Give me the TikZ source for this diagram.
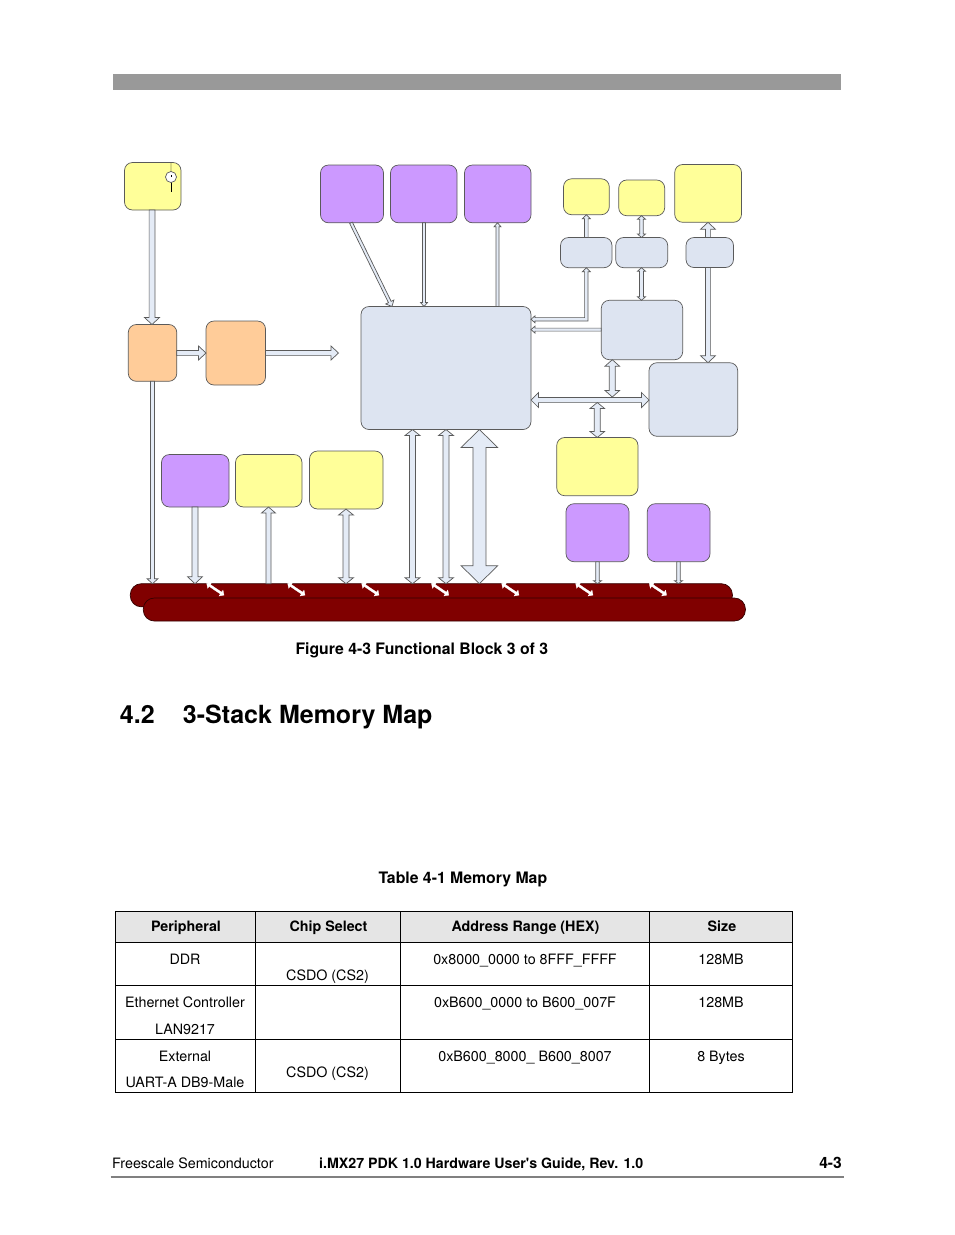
\documentclass[tikz,border=0pt]{standalone}
\usepackage{fontspec}
\setmainfont{TeX Gyre Heros}[Ligatures=TeXOff]
\usetikzlibrary{calc}
\definecolor{yel}{HTML}{FFFF99}
\definecolor{pur}{HTML}{CC99FF}
\definecolor{ora}{HTML}{FFCC99}
\definecolor{blu}{HTML}{DDE4F1}
\definecolor{arr}{HTML}{E4EBF6}
\definecolor{busred}{HTML}{800000}
\definecolor{edge}{HTML}{5A5A5A}
\tikzset{
  blockbox/.style={draw=edge,line width=0.7pt,rounded corners=8pt,inner sep=0pt,outer sep=0pt,anchor=north west},
  ybox/.style={blockbox,fill=yel},
  pbox/.style={blockbox,fill=pur},
  obox/.style={blockbox,fill=ora},
  bbox/.style={blockbox,fill=blu},
  busbox/.style={blockbox,fill=busred,draw=black!60!busred,rounded corners=11pt},
  flow/.style={draw=edge,line width=0.7pt,fill=arr,line join=miter},
  minor/.style={draw=white,fill=white,line width=0.3pt},
  rule/.style={draw=black,line width=0.8pt},
  cell/.style={anchor=base,inner sep=0pt,font=\fontsize{14.3}{16}\selectfont},
  headcell/.style={anchor=base,inner sep=0pt,font=\fontsize{14.3}{16}\selectfont\bfseries},
}
% name, style, x1, y1, x2, y2
\newcommand\blk[6]{\node[#2,minimum width={(#5-#3)*1pt},minimum height={(#6-#4)*1pt}] (#1) at (#3,#4) {};}
% style, from, to, shaft half, head half, head length
\newcommand\twohead[6]{%
  \coordinate (A) at (#2); \coordinate (B) at (#3);
  \coordinate (A1) at ($(A)!#6pt!(B)$); \coordinate (B1) at ($(B)!#6pt!(A)$);
  \path[#1] (A) -- ($(A1)!#5pt!90:(B)$) -- ($(A1)!#4pt!90:(B)$) -- ($(B1)!#4pt!-90:(A)$) -- ($(B1)!#5pt!-90:(A)$)
    -- (B) -- ($(B1)!#5pt!90:(A)$) -- ($(B1)!#4pt!90:(A)$) -- ($(A1)!#4pt!-90:(B)$) -- ($(A1)!#5pt!-90:(B)$) -- cycle;}
\newcommand\onehead[6]{%
  \coordinate (A) at (#2); \coordinate (B) at (#3);
  \coordinate (B1) at ($(B)!#6pt!(A)$);
  \path[#1] ($(A)!#4pt!90:(B)$) -- ($(B1)!#4pt!-90:(A)$) -- ($(B1)!#5pt!-90:(A)$)
    -- (B) -- ($(B1)!#5pt!90:(A)$) -- ($(B1)!#4pt!90:(A)$) -- ($(A)!#4pt!-90:(B)$) -- cycle;}
\begin{document}
\begin{tikzpicture}[x=1pt,y=-1pt]
\useasboundingbox (0,0) rectangle (954,1235);
\fill[black!40] (113,74) rectangle (841,90);

% blocks
\blk{clk}{ybox}{124.5}{162.5}{181}{210}
\blk{ora1}{obox}{128.3}{324.5}{176.8}{381.3}
\blk{ora2}{obox}{206}{321}{265.5}{385}
\blk{pa}{pbox}{320.5}{165}{383.5}{222.8}
\blk{pb}{pbox}{390.5}{165}{457}{222.8}
\blk{pc}{pbox}{464.5}{165}{531}{222.8}
\blk{soc}{bbox}{361}{306.5}{531}{429.5}
\blk{ya}{ybox}{563.5}{178.8}{609.3}{214.7}
\blk{yb}{ybox}{618.7}{180}{664.7}{215.7}
\blk{yc}{ybox}{674.7}{164.5}{741.5}{222.3}
\blk{ba}{bbox}{560.5}{237.5}{612}{267.7}
\blk{bb}{bbox}{615.7}{237.5}{667.7}{267.7}
\blk{bc}{bbox}{686}{237.5}{733.5}{267.5}
\blk{bd}{bbox}{601.3}{300.3}{682.7}{359.7}
\blk{be}{bbox}{649}{362.7}{737.7}{436.3}
\blk{yd}{ybox}{556.7}{437.5}{638}{495.7}
\blk{pd}{pbox}{566}{503.7}{629}{561.7}
\blk{pe}{pbox}{647.3}{503.7}{710}{561.7}
\blk{pf}{pbox}{161.5}{454.5}{229}{507}
\blk{ye}{ybox}{235.5}{454.5}{302}{507}
\blk{yf}{ybox}{309.5}{451}{383}{509}
\blk{busa}{busbox}{130.3}{583.7}{732.4}{606.8}
\blk{busb}{busbox}{143.3}{598}{745.4}{621}

% clock symbol
\draw[yel!85!black,line width=1.5pt] (171,163) -- (171,172);
\draw[line width=1pt] (171,182) -- (171,192);
\node[circle,draw=edge,fill=white,line width=0.7pt,minimum size=11pt,inner sep=0pt] (dial) at (171,177) {};
\draw[line width=1pt] (dial.center) -- (171,174.5);

% connectors
\onehead{flow}{152,0 |- clk.south}{152,0 |- ora1.north}{2.9}{7.5}{7}
\onehead{flow}{ora1.east |- 0,353}{ora2.west |- 0,353}{2.6}{7}{7.5}
\coordinate (freeout) at (338.5,353);
\onehead{flow}{ora2.east |- freeout}{freeout}{2.6}{7}{7.5}
\onehead{flow}{152.5,0 |- ora1.south}{152.5,0 |- busa.north}{2}{5.5}{5}
\onehead{flow}{351,222.8}{392,306.5}{1.5}{4.5}{5}
\onehead{flow}{424,0 |- pb.south}{424,0 |- soc.north}{1.5}{3.5}{4}
\onehead{flow}{497.5,0 |- soc.north}{497.5,0 |- pc.south}{1.5}{3.5}{4}
\onehead{flow}{195,0 |- pf.south}{195,0 |- busa.north}{3}{7.5}{7}
\onehead{flow}{268.5,0 |- busa.north}{268.5,0 |- ye.south}{2.5}{7}{6}
\twohead{flow}{346,0 |- yf.south}{346,0 |- busa.north}{3}{7.5}{6}
\twohead{flow}{412.5,0 |- soc.south}{412.5,0 |- busa.north}{3}{7.5}{6}
\twohead{flow}{446,0 |- soc.south}{446,0 |- busa.north}{3}{7.5}{6}
\twohead{flow}{479.4,0 |- soc.south}{479.4,0 |- busa.north}{6.5}{18.3}{18}
\onehead{flow}{597.5,0 |- pd.south}{597.5,0 |- busa.north}{1.8}{4}{3}
\onehead{flow}{678.5,0 |- pe.south}{678.5,0 |- busa.north}{1.8}{4}{3}
\twohead{flow}{soc.east |- 0,400}{be.west |- 0,400}{2.6}{7.5}{7.5}
\coordinate (busT) at (612.3,397);
\coordinate (busU) at (597.3,402.5);
\twohead{flow}{612.3,0 |- bd.south}{busT}{3}{7.3}{6.5}
\twohead{flow}{busU}{597.3,0 |- yd.north}{3}{7.3}{6}
\onehead{flow}{708,0 |- bc.north}{708,0 |- yc.south}{2.6}{7.5}{7}
\onehead{flow}{708,0 |- bc.south}{708,0 |- be.north}{2.6}{7.5}{7}
\onehead{flow}{586.3,0 |- ba.north}{586.3,0 |- ya.south}{1.8}{4}{4}
\twohead{flow}{641.5,0 |- bb.north}{641.5,0 |- yb.south}{1.8}{4}{3.5}
\twohead{flow}{641.5,0 |- bb.south}{641.5,0 |- bd.north}{2}{4}{3.5}
\onehead{flow}{bd.west |- 0,329.6}{soc.east |- 0,329.6}{1.5}{3.5}{4}
% elbow between ba and soc
\coordinate (elb) at (586.3,319.3);
\path[flow] (ba.south -| elb) -- (582.3,271.7) -- (584.6,271.7) -- (584.6,317.6) -- (535,317.6) -- (535,315.8)
  -- (soc.east |- elb) -- (535,322.8) -- (535,321) -- (588,321) -- (588,271.7) -- (590.3,271.7) -- cycle;

% small bus links
\foreach \n/\bx in {1/206.7,2/287.7,3/361.7,4/431.5,5/501.7,6/575.7,7/649.3}{
  \coordinate (sa\n) at (\bx,583.4);
  \coordinate (sb\n) at ($(sa\n)+(17.3,11.7)$);
  \twohead{minor}{sa\n}{sb\n}{1.1}{3.5}{3.6}
}

% captions
\node[anchor=base west,inner sep=0pt,font=\fontsize{15.8}{18}\selectfont\bfseries] (figcap) at (295.3,654) {Figure 4-3 Functional Block 3 of 3};
\node[anchor=base west,inner sep=0pt,font=\fontsize{25}{28}\selectfont\bfseries] (secno) at (119.7,723) {4.2};
\node[anchor=base west,inner sep=0pt,font=\fontsize{25}{28}\selectfont\bfseries] (sectitle) at (182.7,723) {3-Stack Memory Map};
\node[anchor=base west,inner sep=0pt,font=\fontsize{15.8}{18}\selectfont\bfseries] (tabcap) at (378.3,883.5) {Table 4-1 Memory Map};

% table
\fill[black!10] (115.3,911.7) rectangle (792.3,942.3);
\draw[rule] (115.3,911.7) rectangle (792.3,1092.3);
\foreach \ty in {942.3,985,1039.3}{\draw[rule] (115.3,\ty) -- (792.3,\ty);}
\foreach \tx in {255.4,400.7,649.4}{\draw[rule] (\tx,911.7) -- (\tx,1092.3);}
\node[headcell] (h1) at (186,931) {Peripheral};
\node[headcell] (h2) at (328.5,931) {Chip Select};
\node[headcell] (h3) at (525.5,931) {Address Range (HEX)};
\node[headcell] (h4) at (722,931) {Size};
\node[cell] (c11) at (185,964) {DDR};
\node[cell] (c12) at (327.5,980) {CSDO (CS2)};
\node[cell] (c13) at (525,964) {0x8000\_0000 to 8FFF\_FFFF};
\node[cell] (c14) at (721,964) {128MB};
\node[cell] (c21) at (185,1007) {Ethernet Controller};
\node[cell] (c21b) at (185,1034) {LAN9217};
\node[cell] (c23) at (525,1007) {0xB600\_0000 to B600\_007F};
\node[cell] (c24) at (721,1007) {128MB};
\node[cell] (c31) at (185,1061) {External};
\node[cell] (c31b) at (185,1087) {UART-A DB9-Male};
\node[cell] (c32) at (327.5,1077) {CSDO (CS2)};
\node[cell] (c33) at (525,1061) {0xB600\_8000\_ B600\_8007};
\node[cell] (c34) at (721,1061) {8 Bytes};

% footer
\node[anchor=base west,inner sep=0pt,font=\fontsize{14.3}{16}\selectfont] (foot1) at (112,1168) {Freescale Semiconductor};
\node[anchor=base west,inner sep=0pt,font=\fontsize{14.2}{16}\selectfont\bfseries] (foot2) at (319,1168) {i.MX27 PDK 1.0 Hardware User's Guide, Rev. 1.0};
\node[anchor=base east,inner sep=0pt,font=\fontsize{15.6}{18}\selectfont\bfseries] (foot3) at (842,1168.5) {4-3};
\draw[black!50,line width=2pt] (110.5,1177) -- (844,1177);
\end{tikzpicture}
\end{document}
